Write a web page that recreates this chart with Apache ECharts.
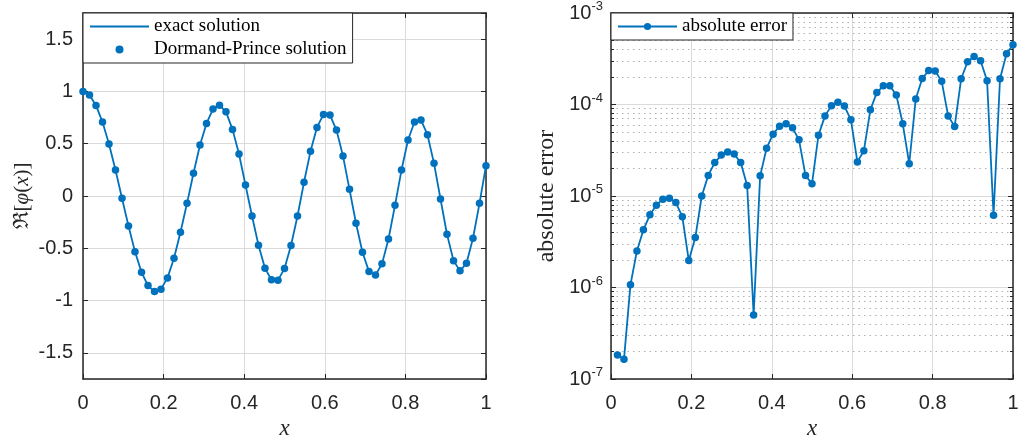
<!DOCTYPE html>
<html>
<head>
<meta charset="utf-8">
<script src="https://cdn.jsdelivr.net/npm/echarts@6/dist/echarts.min.js"></script>
<style>
html,body{margin:0;padding:0;background:#fff;}
#chart{width:1019px;height:437px;}
</style>
</head>
<body>
<div id="chart"></div>
<script>
// ---- data ----
const xs = [0,0.0161,0.0323,0.0484,0.0645,0.0806,0.0968,0.1129,0.1290,0.1452,0.1613,0.1774,0.1935,0.2097,0.2258,0.2419,0.2581,0.2742,0.2903,0.3065,0.3226,0.3387,0.3548,0.3710,0.3871,0.4032,0.4194,0.4355,0.4516,0.4677,0.4839,0.5000,0.5161,0.5323,0.5484,0.5645,0.5806,0.5968,0.6129,0.6290,0.6452,0.6613,0.6774,0.6935,0.7097,0.7258,0.7419,0.7581,0.7742,0.7903,0.8065,0.8226,0.8387,0.8548,0.8710,0.8871,0.9032,0.9194,0.9355,0.9516,0.9677,0.9839,1.0000];
const realPhi = [1.0,0.965,0.866,0.707,0.497,0.248,-0.022,-0.287,-0.532,-0.729,-0.857,-0.914,-0.891,-0.783,-0.595,-0.347,-0.070,0.217,0.487,0.694,0.831,0.869,0.805,0.637,0.401,0.105,-0.191,-0.471,-0.691,-0.802,-0.805,-0.694,-0.474,-0.191,0.131,0.427,0.656,0.780,0.774,0.630,0.382,0.064,-0.261,-0.538,-0.723,-0.755,-0.649,-0.411,-0.089,0.248,0.535,0.707,0.726,0.586,0.312,-0.029,-0.366,-0.618,-0.716,-0.643,-0.404,-0.070,0.290];
const errXs = xs.slice(1);
const absError = [1.83e-7,1.64e-7,1.07e-6,2.51e-6,4.27e-6,6.22e-6,7.94e-6,9.23e-6,9.46e-6,8.47e-6,5.95e-6,1.97e-6,3.51e-6,1.00e-5,1.68e-5,2.32e-5,2.80e-5,3.02e-5,2.87e-5,2.32e-5,1.30e-5,5.01e-7,1.66e-5,3.33e-5,4.74e-5,5.80e-5,6.15e-5,5.56e-5,4.11e-5,1.67e-5,1.36e-5,4.62e-5,7.51e-5,9.67e-5,1.06e-4,9.61e-5,6.81e-5,2.36e-5,3.12e-5,8.75e-5,1.35e-4,1.60e-4,1.60e-4,1.27e-4,6.15e-5,2.25e-5,1.15e-4,1.92e-4,2.35e-4,2.32e-4,1.79e-4,7.51e-5,5.74e-5,1.91e-4,2.93e-4,3.35e-4,3.01e-4,1.82e-4,6.17e-6,1.91e-4,3.59e-4,4.50e-4];
const xTicks = [0,0.2,0.4,0.6,0.8,1];
const leftYRange = [-1.75, 1.75];
const rightYRange = [1e-7, 1e-3];
const legendLeft = ['exact solution','Dormand-Prince solution'];
const legendRight = ['absolute error'];

// ---- styling ----
const BLUE = '#0072BD';
const AX = '#262626';
const GRID = '#dadada';
const SANS = '"Liberation Sans", Arial, Helvetica, sans-serif';
const SERIF = '"Liberation Serif", "Times New Roman", serif';

function pairs(x, y){ return x.map((v,i)=>[v,y[i]]); }

function xAxisPair(grid){
  return [{
    gridIndex: grid, type:'value', min:xTicks[0], max:xTicks[xTicks.length-1], interval:0.2,
    position:'bottom',
    axisLine:{show:true,onZero:false,lineStyle:{color:AX,width:1.5}},
    axisTick:{show:true,inside:true,length:5,lineStyle:{color:AX,width:1}},
    axisLabel:{margin:14,fontSize:20,color:AX,fontFamily:SANS},
    splitLine:{show:true,lineStyle:{color:GRID,width:1}},
    name:'x', nameLocation:'middle', nameGap:37,
    nameTextStyle:{fontFamily:SERIF,fontStyle:'italic',fontSize:23,color:AX}
  },{
    gridIndex: grid, type:'value', min:xTicks[0], max:xTicks[xTicks.length-1], interval:0.2,
    position:'top',
    axisLine:{show:true,onZero:false,lineStyle:{color:AX,width:1.5}},
    axisTick:{show:true,inside:true,length:5,lineStyle:{color:AX,width:1}},
    axisLabel:{show:false}, splitLine:{show:false}
  }];
}

const option = {
  animation:false,
  backgroundColor:'#fff',
  grid:[
    {left:83, top:13, width:403, height:366, outerBoundsMode:'none', containLabel:false},
    {left:611, top:13, width:402, height:366, outerBoundsMode:'none', containLabel:false}
  ],
  legend:[{
    left:83, top:13, orient:'vertical',
    data:[{name:legendLeft[0], itemStyle:{color:'rgba(0,0,0,0)',borderWidth:0}}, {name:legendLeft[1]}],
    itemWidth:59, itemHeight:8, itemGap:4,
    padding:[4,6,4,6],
    borderColor:AX, borderWidth:1, borderRadius:0, backgroundColor:'#fff',
    textStyle:{fontFamily:SERIF,fontSize:19,color:'#000'}
  },{
    left:611, top:13, orient:'vertical',
    data:legendRight,
    itemWidth:59, itemHeight:9,
    padding:[4,6,4,6],
    borderColor:AX, borderWidth:1, borderRadius:0, backgroundColor:'#fff',
    textStyle:{fontFamily:SERIF,fontSize:19,color:'#000'}
  }],
  xAxis: xAxisPair(0).concat(xAxisPair(1)),
  yAxis:[{
    gridIndex:0, type:'value', min:leftYRange[0], max:leftYRange[1], splitNumber:7,
    position:'left',
    axisLine:{show:true,onZero:false,lineStyle:{color:AX,width:1.5}},
    axisTick:{show:true,inside:true,length:5,lineStyle:{color:AX,width:1}},
    axisLabel:{margin:10,fontSize:20,color:AX,fontFamily:SANS,showMinLabel:false,showMaxLabel:false},
    splitLine:{show:true,lineStyle:{color:GRID,width:1}},
    name:'{u|ℜ[}{i|φ}{u|(}{i|x}{u|)]}', nameLocation:'middle', nameGap:50,
    nameTextStyle:{fontFamily:SERIF,fontSize:21,color:AX,
      rich:{u:{fontFamily:SERIF,fontSize:21,color:AX},i:{fontFamily:SERIF,fontStyle:'italic',fontSize:21,color:AX}}}
  },{
    gridIndex:0, type:'value', min:leftYRange[0], max:leftYRange[1], splitNumber:7,
    position:'right',
    axisLine:{show:true,onZero:false,lineStyle:{color:AX,width:1.5}},
    axisTick:{show:true,inside:true,length:5,lineStyle:{color:AX,width:1}},
    axisLabel:{show:false}, splitLine:{show:false}
  },{
    gridIndex:1, type:'log', logBase:10, min:rightYRange[0], max:rightYRange[1],
    position:'left',
    axisLine:{show:true,onZero:false,lineStyle:{color:AX,width:1.5}},
    axisTick:{show:true,inside:true,length:5,lineStyle:{color:AX,width:1}},
    minorTick:{show:true,splitNumber:9,length:3,lineStyle:{color:AX,width:1}},
    minorSplitLine:{show:true,lineStyle:{color:'#b0b0b0',width:1,type:[1.5,4]}},
    axisLabel:{margin:8,color:AX,fontFamily:SANS,
      formatter:function(v){return '{b|10}{s|'+Math.round(Math.log10(v))+'}';},
      rich:{b:{fontSize:20,fontFamily:SANS,color:AX,lineHeight:26},
            s:{fontSize:13,fontFamily:SANS,color:AX,lineHeight:14,verticalAlign:'top'}}},
    splitLine:{show:true,lineStyle:{color:GRID,width:1}},
    name:'absolute error', nameLocation:'middle', nameGap:52,
    nameTextStyle:{fontFamily:SERIF,fontSize:24,color:AX}
  },{
    gridIndex:1, type:'log', logBase:10, min:rightYRange[0], max:rightYRange[1],
    position:'right',
    axisLine:{show:true,onZero:false,lineStyle:{color:AX,width:1.5}},
    axisTick:{show:true,inside:true,length:5,lineStyle:{color:AX,width:1}},
    minorTick:{show:true,splitNumber:9,length:3,lineStyle:{color:AX,width:1}},
    axisLabel:{show:false}, splitLine:{show:false}
  }],
  series:[{
    name:'exact solution', type:'line', xAxisIndex:0, yAxisIndex:0,
    data:pairs(xs, realPhi), symbol:'none',
    lineStyle:{color:BLUE,width:1.8}, itemStyle:{color:BLUE}, z:2
  },{
    name:'Dormand-Prince solution', type:'scatter', xAxisIndex:0, yAxisIndex:0,
    data:pairs(xs, realPhi), symbol:'circle', symbolSize:7.5,
    itemStyle:{color:BLUE,opacity:1}, z:3
  },{
    name:'absolute error', type:'line', xAxisIndex:2, yAxisIndex:2,
    data:pairs(errXs, absError), symbol:'circle', symbolSize:7.5, showSymbol:true,
    lineStyle:{color:BLUE,width:1.8}, itemStyle:{color:BLUE}, z:3
  }]
};

const chart = echarts.init(document.getElementById('chart'), null, {renderer:'canvas'});
chart.setOption(option);
</script>
</body>
</html>
